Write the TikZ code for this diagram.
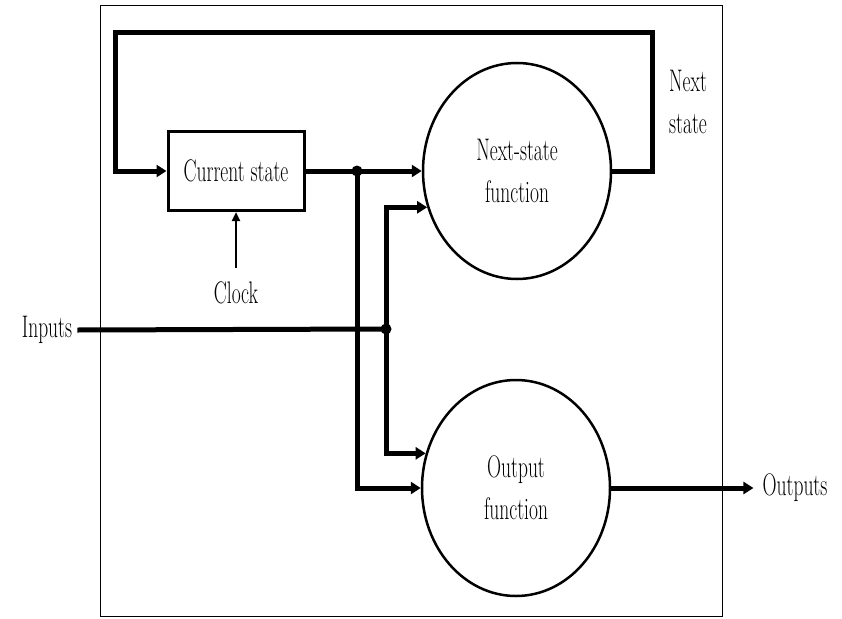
\documentclass[tikz,border=0pt]{standalone}
\usetikzlibrary{positioning,arrows.meta,shapes.geometric}
\newcommand{\tallt}[1]{\scalebox{1}[1.6]{#1}}
\tikzset{
  wire/.style={line width=5pt},
  sig/.style={wire,-{Triangle[length=10pt,width=12pt]}},
  func/.style={ellipse,draw,line width=2.5pt,minimum width=188pt,minimum height=216pt},
  lbl/.style={font=\fontsize{19.5}{42}\selectfont,align=center,inner sep=0pt},
  joint/.style={circle,fill,inner sep=0pt,minimum size=11pt},
}
\begin{document}
\begin{tikzpicture}[x=1pt,y=-1pt]
    \useasboundingbox (0,0) rectangle (842,618);
    \draw[line width=1pt] (100,6) rectangle (722,616);
    %blocchi
    \node[lbl,draw,line width=3pt,minimum width=136pt,minimum height=79pt] (cs) at (236,171) {\tallt{Current state}};
    \node[func,lbl] (ns) at (517,171) {\tallt{Next-state}\\\tallt{function}};
    \node[func,lbl] (of) at (516,488) {\tallt{Output}\\\tallt{function}};
    %etichette
    \node[lbl] (clk) at (236,293) {\tallt{Clock}};
    \node[lbl,inner xsep=5pt] (inp) at (47,330) {\tallt{Inputs}};
    \node[lbl,inner xsep=9pt] (outp) at (795,488) {\tallt{Outputs}};
    \node[lbl] (nxt) at (688,102) {\tallt{Next}\\\tallt{state}};
    %nodi
    \node[joint] (j1) at (357,171) {};
    \node[joint] (j2) at (386,329) {};
    \coordinate (fbr) at (652,33);
    \coordinate (fbl) at (115,33);
    %collegamenti
    \draw[sig] (ns.east) -| (fbr) -- (fbl) |- (cs.west);
    \draw[sig] (cs.east) -- (ns.west);
    \draw[sig] (j1.center) |- (of.west);
    \draw[wire] (inp.east) -- (j2.center);
    \draw[sig] (j2.center) |- (ns.202);
    \draw[sig] (j2.center) |- (of.159);
    \draw[sig] (of.east) -- (outp.west);
    \draw[line width=2.5pt,-{Triangle[length=9pt,width=8pt]}] ([yshift=14pt]clk.north) -- (cs.south);
\end{tikzpicture}
\end{document}
